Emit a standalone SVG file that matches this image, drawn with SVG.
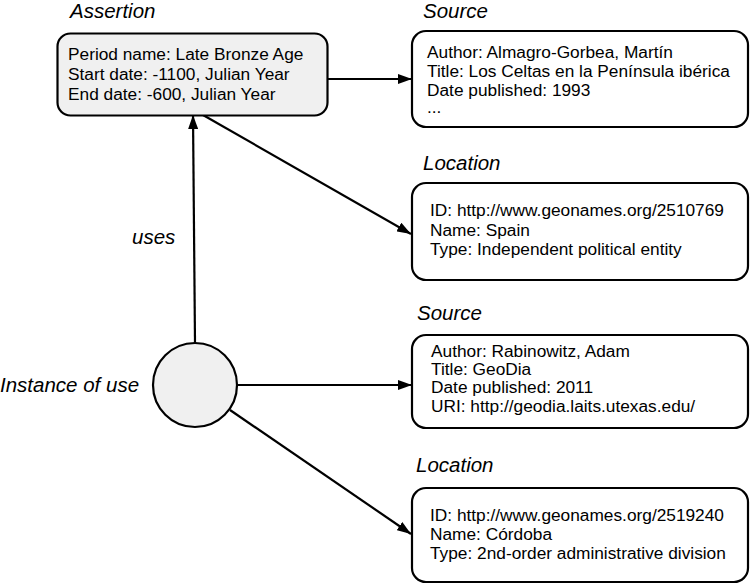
<svg xmlns="http://www.w3.org/2000/svg" width="750" height="584" viewBox="0 0 750 584">
<style>
.box{fill:#fff;stroke:#000;stroke-width:2.2}
.grey{fill:#f0f0f0}
.t{font-family:"Liberation Sans",Arial,sans-serif;font-size:17.3px;fill:#000}
.lbl{font-family:"Liberation Sans",Arial,sans-serif;font-size:20.5px;font-style:italic;fill:#000}
.con line{stroke:#000;stroke-width:2.2}
</style>
<defs>
<marker id="arr" viewBox="0 0 14 10" refX="14" refY="5" markerWidth="14" markerHeight="10" markerUnits="userSpaceOnUse" orient="auto">
<path d="M0,0 L14,5 L0,10 z" fill="#000"/>
</marker>
</defs>
<g id="connectors" class="con">
<line x1="328" y1="79" x2="412" y2="79" marker-end="url(#arr)"/>
<line x1="203" y1="115" x2="411" y2="234" marker-end="url(#arr)"/>
<line x1="195" y1="343" x2="193" y2="115" marker-end="url(#arr)"/>
<line x1="237" y1="385" x2="412" y2="385" marker-end="url(#arr)"/>
<line x1="230" y1="410" x2="411" y2="534" marker-end="url(#arr)"/>
</g>
<g id="assertion">
<text class="lbl" x="70" y="18">Assertion</text>
<rect class="box grey" x="57.5" y="33.5" width="270" height="82" rx="13"/>
<text class="t" x="68" y="60">Period name: Late Bronze Age</text>
<text class="t" x="68" y="80">Start date: -1100, Julian Year</text>
<text class="t" x="68" y="100">End date: -600, Julian Year</text>
</g>
<g id="source1">
<text class="lbl" x="423" y="18">Source</text>
<rect class="box" x="412" y="31" width="336" height="96" rx="14"/>
<text class="t" x="427" y="58">Author: Almagro-Gorbea, Martín</text>
<text class="t" x="427" y="77">Title: Los Celtas en la Península ibérica</text>
<text class="t" x="427" y="96">Date published: 1993</text>
<text class="t" x="427" y="113">...</text>
</g>
<g id="location1">
<text class="lbl" x="423" y="170">Location</text>
<rect class="box" x="412" y="183" width="336" height="97" rx="14"/>
<text class="t" x="430" y="216">ID: http://www.geonames.org/2510769</text>
<text class="t" x="430" y="236">Name: Spain</text>
<text class="t" x="430" y="255">Type: Independent political entity</text>
</g>
<g id="instance">
<circle class="box grey" cx="195" cy="385" r="42"/>
<text class="lbl" x="0" y="392">Instance of use</text>
</g>
<text class="lbl" x="132" y="244">uses</text>
<g id="source2">
<text class="lbl" x="417" y="320">Source</text>
<rect class="box" x="412" y="335" width="336" height="93" rx="14"/>
<text class="t" x="431" y="357">Author: Rabinowitz, Adam</text>
<text class="t" x="431" y="375">Title: GeoDia</text>
<text class="t" x="431" y="393">Date published: 2011</text>
<text class="t" x="431" y="412">URI: http://geodia.laits.utexas.edu/</text>
</g>
<g id="location2">
<text class="lbl" x="416" y="472">Location</text>
<rect class="box" x="412" y="488" width="336" height="94" rx="14"/>
<text class="t" x="430" y="521">ID: http://www.geonames.org/2519240</text>
<text class="t" x="430" y="540">Name: Córdoba</text>
<text class="t" x="430" y="559">Type: 2nd-order administrative division</text>
</g>
</svg>
